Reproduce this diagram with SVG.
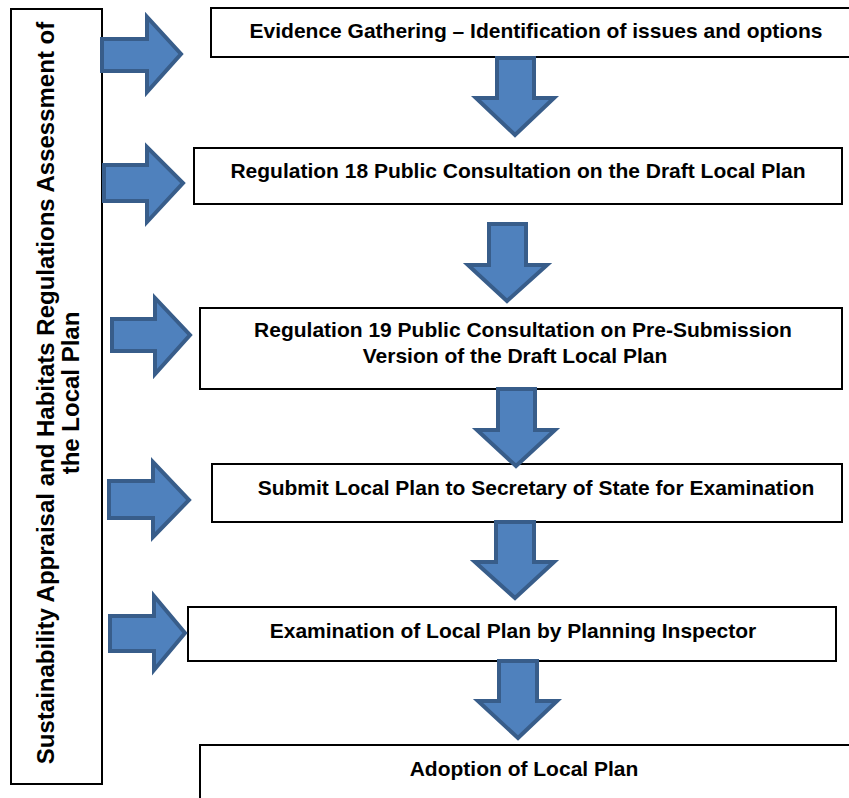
<svg xmlns="http://www.w3.org/2000/svg" width="849" height="798" viewBox="0 0 849 798">
<style>
.box{fill:#fff;stroke:#000;stroke-width:2}
.t{font-family:"Liberation Sans",Arial,sans-serif;font-weight:bold;font-size:21px;fill:#000;text-anchor:middle}
.side{font-family:"Liberation Sans",Arial,sans-serif;font-weight:bold;font-size:24px;fill:#000;text-anchor:middle}
.arr{fill:#4F81BD;stroke:#385D8A;stroke-width:4;stroke-linejoin:miter}
</style>
<rect width="849" height="798" fill="#fff"/>
<g id="sa-hra">
<rect class="box" x="11" y="9" width="91" height="775"/>
<text class="side" transform="translate(54,393) rotate(-90)">Sustainability Appraisal and Habitats Regulations Assessment of</text>
<text class="side" transform="translate(79,393) rotate(-90)">the Local Plan</text>
</g>
<g id="evidence">
<rect class="box" x="211" y="8" width="645" height="49"/>
<text class="t" x="536" y="38">Evidence Gathering – Identification of issues and options</text>
</g>
<g id="reg18">
<rect class="box" x="194" y="148" width="648" height="56"/>
<text class="t" x="518" y="178">Regulation 18 Public Consultation on the Draft Local Plan</text>
</g>
<g id="reg19">
<rect class="box" x="200" y="308" width="642" height="81"/>
<text class="t" x="523" y="337">Regulation 19 Public Consultation on Pre-Submission</text>
<text class="t" x="515" y="363">Version of the Draft Local Plan</text>
</g>
<g id="submit">
<rect class="box" x="212" y="464" width="630" height="58"/>
<text class="t" x="536" y="495">Submit Local Plan to Secretary of State for Examination</text>
</g>
<g id="examination">
<rect class="box" x="188" y="607" width="648" height="54"/>
<text class="t" x="513" y="638">Examination of Local Plan by Planning Inspector</text>
</g>
<g id="adoption">
<rect class="box" x="200" y="745" width="655" height="60"/>
<text class="t" x="524" y="776">Adoption of Local Plan</text>
</g>
<g id="connectors">
<polygon class="arr" points="102,39 147,39 147,17 181,54 147,92 147,71 102,71"/>
<polygon class="arr" points="104,165 147,165 147,147 183,183 147,222 147,201 104,201"/>
<polygon class="arr" points="112,319 155,319 155,298 190,335 155,374 155,351 112,351"/>
<polygon class="arr" points="109,481 153,481 153,462 189,500 153,537 153,518 109,518"/>
<polygon class="arr" points="110,616 154,616 154,596 185,633 154,670 154,651 110,651"/>
<polygon class="arr" points="497,58 534,58 534,98 554,98 515,135 476,98 497,98"/>
<polygon class="arr" points="489,224 526,224 526,265 547,265 507,301 468,265 489,265"/>
<polygon class="arr" points="498,389 535,389 535,430 555,430 516,466 477,430 498,430"/>
<polygon class="arr" points="496,522 534,522 534,562 554,562 515,598 475,562 496,562"/>
<polygon class="arr" points="499,661 537,661 537,701 557,701 518,738 478,701 499,701"/>
</g>
</svg>
